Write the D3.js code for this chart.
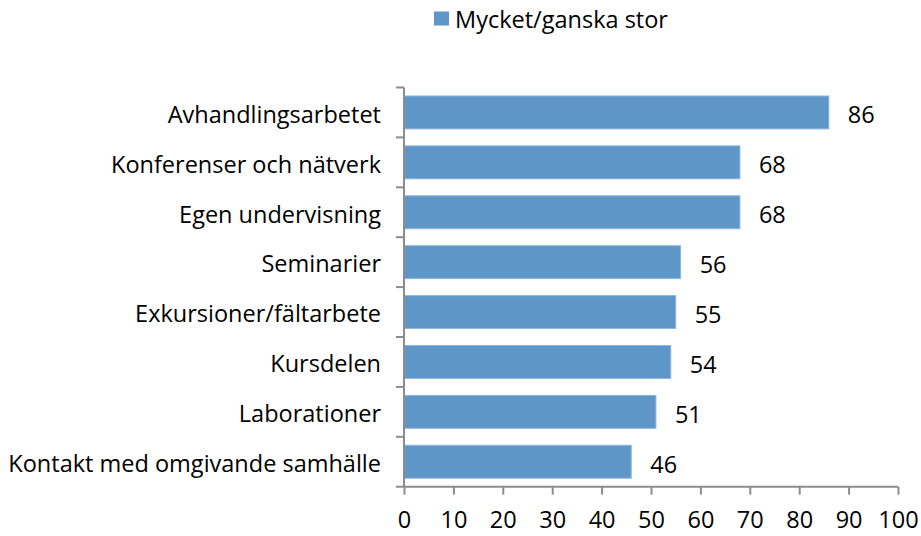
<!DOCTYPE html>
<html><head><meta charset="utf-8">
<script src="https://cdn.jsdelivr.net/npm/d3@7"></script>
<style>body{margin:0;background:#fff}svg{display:block}text{font-family:"Open Sans",sans-serif;fill:#000}</style>
</head><body>
<script>
const categories = ["Avhandlingsarbetet","Konferenser och nätverk","Egen undervisning","Seminarier","Exkursioner/fältarbete","Kursdelen","Laborationer","Kontakt med omgivande samhälle"];
const values = [86,68,68,56,55,54,51,46];
const seriesName = "Mycket/ganska stor";
const xTicks = [0,10,20,30,40,50,60,70,80,90,100];

const W=921,H=536, FS=23.5;
const svg=d3.select("body").append("svg").attr("width",W).attr("height",H);
const x=d3.scaleLinear().domain([0,100]).range([404,898]);
const y=d3.scaleBand().domain(categories).range([87.5,486.7]).paddingInner(0.34).paddingOuter(0.17);
const fill="#5f96c8", edge="#8fb6df", axc="#8c8c8c";

svg.append("g").selectAll("rect").data(values).join("rect")
  .attr("x",x(0)).attr("y",(d,i)=>y(categories[i]))
  .attr("width",d=>x(d)-x(0)).attr("height",y.bandwidth())
  .attr("fill",fill).attr("stroke",edge).attr("stroke-width",1);

svg.append("g").selectAll("text").data(values).join("text")
  .attr("x",d=>x(d)+19).attr("y",(d,i)=>y(categories[i])+y.bandwidth()/2)
  .attr("dy","0.47em").attr("font-size",FS).text(d=>d);

// y axis
const yb=d3.scaleBand().domain(categories).range([87.5,486.7]);
const ya=svg.append("g").attr("transform",`translate(${x(0)},0)`);
ya.append("line").attr("y1",87.5).attr("y2",486.7).attr("stroke",axc).attr("stroke-width",2);
const bounds=categories.map(c=>yb(c)).concat([486.7]);
ya.selectAll("line.t").data(bounds).join("line").attr("class","t")
  .attr("x1",-8).attr("x2",0).attr("y1",d=>d).attr("y2",d=>d).attr("stroke",axc).attr("stroke-width",2);
ya.selectAll("text").data(categories).join("text")
  .attr("x",-23).attr("y",d=>yb(d)+yb.bandwidth()/2).attr("dy","0.44em")
  .attr("text-anchor","end").attr("font-size",FS).text(d=>d);

// x axis
const xa=svg.append("g").attr("transform","translate(0,486.7)")
  .call(d3.axisBottom(x).tickValues(xTicks).tickSize(8).tickPadding(17).tickFormat(d3.format("d")));
xa.select(".domain").attr("stroke",axc).attr("stroke-width",2).attr("d",`M${x(0)},0H${x(100)}`);
xa.selectAll(".tick line").attr("stroke",axc).attr("stroke-width",2);
xa.selectAll(".tick text").attr("font-size",FS).attr("font-family","'Open Sans',sans-serif").attr("fill","#000");

// legend
const lg=svg.append("g");
lg.append("rect").attr("x",434).attr("y",11.5).attr("width",15).attr("height",14).attr("fill",fill);
lg.append("text").attr("x",455).attr("y",20).attr("dy","0.36em").attr("font-size",FS).text(seriesName);
</script>
</body></html>
